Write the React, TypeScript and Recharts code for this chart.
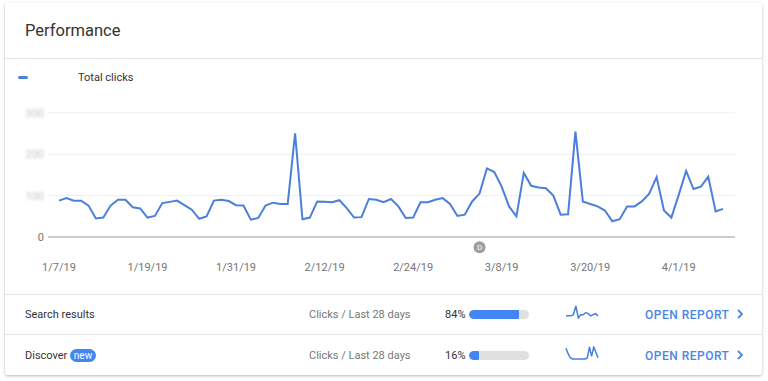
import { LineChart, Line, XAxis, YAxis, CartesianGrid, ReferenceDot } from "recharts";

const FONT = "Roboto, Arial, sans-serif";
const BLUE = "#4a7fdc";

// daily clicks, 1/7/19 .. 4/7/19
const clicks = [
  88, 94, 88, 88, 76, 45, 47, 76, 90, 90,
  72, 69, 47, 51, 82, 85, 88, 77, 66, 44,
  50, 88, 90, 87, 77, 76, 42, 46, 76, 83,
  80, 80, 251, 43, 47, 86, 85, 84, 89, 70,
  47, 48, 92, 90, 84, 92, 74, 46, 47, 84,
  84, 90, 94, 80, 51, 54, 86, 105, 166, 157,
  122, 74, 50, 155, 124, 120, 118, 100, 54, 55,
  255, 86, 80, 74, 64, 38, 43, 74, 74, 86,
  105, 145, 64, 47, 102, 160, 116, 122, 146, 62,
  68,
];

const startDate = new Date(2019, 0, 7);
const dates = clicks.map((_, i) => {
  const d = new Date(startDate);
  d.setDate(d.getDate() + i);
  return `${d.getMonth() + 1}/${d.getDate()}/19`;
});

const xTicks = ["1/7/19", "1/19/19", "1/31/19", "2/12/19", "2/24/19", "3/8/19", "3/20/19", "4/1/19"];
const yTicks = [0, 100, 200, 300];
const yTickLabels = ["0", "100", "200", "300"];

const annotationDate = "3/5/19";

const searchSpark = [5, 5, 5, 6, 14, 3, 6, 6, 8, 7, 5, 6, 7, 5];
const discoverSpark = [9, 5, 2, 1, 1, 1, 1, 1, 1, 1, 2, 10, 3, 10, 6, 2];

const rows = [
  { name: "Search results", pct: 84, spark: searchSpark, badge: false },
  { name: "Discover", pct: 16, spark: discoverSpark, badge: true },
];

const data = clicks.map((v, i) => ({ date: dates[i], clicks: v }));

function YTick(props: any) {
  const { x, y, payload } = props;
  const idx = yTicks.indexOf(payload.value);
  const blurred = payload.value !== 0;
  return (
    <text
      x={x}
      y={y}
      dy={4}
      textAnchor="end"
      fontSize={11}
      fontFamily={FONT}
      fill={blurred ? "#c4c4c4" : "#757575"}
      style={blurred ? { filter: "blur(1.5px)" } : undefined}
    >
      {yTickLabels[idx]}
    </text>
  );
}

function Sparkline({ values }: { values: number[] }) {
  const d = values.map((v, i) => ({ i, v }));
  return (
    <LineChart width={34} height={14} data={d} margin={{ top: 1, right: 1, bottom: 1, left: 1 }}>
      <YAxis hide domain={["dataMin", "dataMax"]} />
      <Line type="linear" dataKey="v" stroke={BLUE} strokeWidth={1.5} dot={false} isAnimationActive={false} />
    </LineChart>
  );
}

export default function App() {
  return (
    <div style={{ position: "absolute", left: 0, top: 0, width: 768, height: 381, background: "#fff", fontFamily: FONT }}>
      <div
        style={{
          position: "absolute",
          left: 5,
          top: 3,
          width: 757,
          height: 372,
          background: "#fff",
          borderRadius: 2,
          boxShadow: "0 1px 3px rgba(0,0,0,0.28)",
        }}
      />
      <div style={{ position: "absolute", left: 25, top: 21, fontSize: 16.5, color: "#333" }}>Performance</div>
      <div style={{ position: "absolute", left: 5, top: 58, width: 757, height: 1, background: "#e6e6e6" }} />

      <div style={{ position: "absolute", left: 18, top: 76, width: 10, height: 3, borderRadius: 2, background: BLUE }} />
      <div style={{ position: "absolute", left: 78, top: 71, fontSize: 11, color: "#333" }}>Total clicks</div>

      <div style={{ position: "absolute", left: 0, top: 0 }}>
        <LineChart width={768} height={280} data={data} margin={{ top: 113, right: 33, bottom: 0, left: 8 }}>
          <CartesianGrid vertical={false} stroke="#eeeeee" />
          <XAxis
            dataKey="date"
            ticks={xTicks}
            interval={0}
            height={43}
            padding={{ left: 11, right: 12 }}
            tickLine={false}
            tickSize={6}
            tickMargin={20}
            axisLine={{ stroke: "#9e9e9e" }}
            tick={{ fontSize: 11, fill: "#757575", fontFamily: FONT }}
          />
          <YAxis
            width={40}
            domain={[0, 300]}
            ticks={yTicks}
            axisLine={false}
            tickLine={false}
            tickSize={0}
            tickMargin={4}
            tick={<YTick />}
          />
          <Line type="linear" dataKey="clicks" stroke={BLUE} strokeWidth={2} dot={false} isAnimationActive={false} />
          <ReferenceDot
            x={annotationDate}
            y={-25}
            ifOverflow="visible"
            shape={(p: any) => (
              <g>
                <circle cx={p.cx} cy={p.cy} r={6} fill="#9e9e9e" />
                <text x={p.cx} y={p.cy + 3} textAnchor="middle" fontSize={8} fill="#fff" fontFamily={FONT}>
                  D
                </text>
              </g>
            )}
          />
        </LineChart>
      </div>

      <div style={{ position: "absolute", left: 5, top: 294, width: 757, height: 1, background: "#e6e6e6" }} />
      <div style={{ position: "absolute", left: 5, top: 334, width: 757, height: 1, background: "#e6e6e6" }} />

      {rows.map((r, k) => {
        const cy = 315 + k * 41;
        return (
          <div key={r.name}>
            <div style={{ position: "absolute", left: 25, top: cy - 7, fontSize: 11, color: "#333", lineHeight: "14px" }}>
              {r.name}
            </div>
            {r.badge && (
              <div
                style={{
                  position: "absolute",
                  left: 70,
                  top: cy - 7,
                  width: 26,
                  height: 13,
                  borderRadius: 7,
                  background: "#4285f4",
                  color: "#fff",
                  fontSize: 10,
                  lineHeight: "13px",
                  textAlign: "center",
                }}
              >
                new
              </div>
            )}
            <div style={{ position: "absolute", left: 309, top: cy - 7, fontSize: 11, color: "#777", lineHeight: "14px" }}>
              Clicks / Last 28 days
            </div>
            <div style={{ position: "absolute", left: 445, top: cy - 7, fontSize: 11, color: "#333", lineHeight: "14px" }}>
              {r.pct}%
            </div>
            <div
              style={{
                position: "absolute",
                left: 469,
                top: cy - 5,
                width: 60,
                height: 9,
                borderRadius: 4.5,
                background: "#e0e0e0",
                overflow: "hidden",
              }}
            >
              <div style={{ width: (60 * r.pct) / 100, height: 9, borderRadius: "4.5px 1px 1px 4.5px", background: "#4285f4" }} />
            </div>
            <div style={{ position: "absolute", left: 565, top: cy - 10 }}>
              <Sparkline values={r.spark} />
            </div>
            <div
              style={{
                position: "absolute",
                left: 645,
                top: cy - 7,
                fontSize: 12,
                fontWeight: 500,
                letterSpacing: 0.5,
                color: "#4a86e8",
                lineHeight: "14px",
              }}
            >
              OPEN REPORT
            </div>
            <svg style={{ position: "absolute", left: 735, top: cy - 7 }} width={10} height={12}>
              <polyline points="3,2 7,6 3,10" fill="none" stroke="#4a86e8" strokeWidth={1.8} />
            </svg>
          </div>
        );
      })}
    </div>
  );
}
